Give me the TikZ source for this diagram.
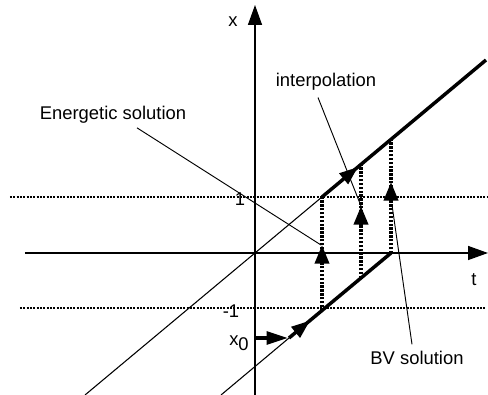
\documentclass[tikz,border=0pt]{standalone}
\usepackage{fontspec}
\setmainfont{Liberation Sans}
\usetikzlibrary{arrows.meta,positioning}
\tikzset{
  axis/.style={line width=1.1pt,-{Triangle[length=15pt,width=10.5pt]}},
  guide/.style={line width=0.9pt,dash pattern=on 1.5pt off 1pt},
  thinsol/.style={line width=0.8pt},
  thicksol/.style={line width=2.6pt},
  solhead/.style={line width=2.6pt,-{Triangle[length=14pt,width=10pt]}},
  jump/.style={line width=2.8pt,dash pattern=on 1.8pt off 1.1pt},
  jumphead/.style={line width=2.8pt,-{Triangle[length=14pt,width=10.5pt]}},
  pointer/.style={line width=0.7pt},
  lbl/.style={font=\fontsize{13.8}{16}\selectfont,inner sep=0pt},
}

\begin{document}
\begin{tikzpicture}[x=0.75pt,y=0.75pt]
\useasboundingbox (-255,-142) rectangle (233,253);

% --- levels +1 and -1 ---
\coordinate (g1a) at (-245,56);  \coordinate (g1b) at (233,56);
\coordinate (g2a) at (-235,-55); \coordinate (g2b) at (230,-55);
\draw[guide] (g1a) -- (g1b);
\draw[guide] (g2a) -- (g2b);

% --- axes ---
\coordinate (xa) at (0,-142); \coordinate (xb) at (0,248);
\coordinate (ta) at (-230,0); \coordinate (tb) at (233,0);
\draw[axis] (xa) -- (xb);
\draw[axis] (ta) -- (tb);

% --- the two branches ---
\coordinate (ua) at (-170,-142); \coordinate (ub) at (67,56);  \coordinate (uc) at (231,193);
\coordinate (la) at (-34,-142);  \coordinate (lb) at (34,-85); \coordinate (lc) at (136,0);
\draw[thinsol] (ua) -- (ub);
\draw[thinsol] (la) -- (lb);
\draw[thicksol] (ub) -- (uc);
\draw[thicksol] (lb) -- (lc);
\coordinate (uh0) at (89,74.5); \coordinate (uh1) at (103,86);
\coordinate (lh0) at (41,-79);  \coordinate (lh1) at (55,-67.6);
\draw[solhead] (uh0) -- (uh1);
\draw[solhead] (lh0) -- (lh1);

% --- starting value ---
\coordinate (x0a) at (-1,-85); \coordinate (x0b) at (33,-85);
\draw[line width=2.6pt,-{Triangle[length=16pt,width=9.5pt]}] (x0a) -- (x0b);

% --- jumps ---
\foreach \j/\t/\lo/\hi/\hb/\ht in {1/67/-58/56/-9/8, 2/106/-25/88.5/27/47, 3/136/0/113.6/53/71} {
  \coordinate (j\j-lo) at (\t,\lo);
  \coordinate (j\j-hi) at (\t,\hi);
  \coordinate (j\j-hb) at (\t,\hb);
  \coordinate (j\j-ht) at (\t,\ht);
  \draw[jump] (j\j-lo) -- (j\j-hi);
  \draw[jumphead] (j\j-hb) -- (j\j-ht);
}

% --- labels ---
\node[lbl] (xlbl)  at (-22,231) {x};
\node[lbl] (tlbl)  at (219,-27) {t};
\node[lbl] (one)   at (-15,54)  {1};
\node[lbl] (mone)  at (-24,-58) {-1};
\node[lbl] (xzero) at (-16,-90) {x\raisebox{-3.5pt}{0}};

\node[lbl] (energ)  at (-142,138) {Energetic solution};
\node[lbl] (interp) at (71,171)   {interpolation};
\node[lbl] (bv)     at (162,-105) {BV solution};

\coordinate (es) at (66,8);
\coordinate (ip) at (106,47);
\coordinate (bs) at (137,48);
\draw[pointer] ([xshift=18pt,yshift=-3pt]energ.south) -- (es);
\draw[pointer] ([xshift=-6pt,yshift=-5pt]interp.south) -- (ip);
\draw[pointer] ([xshift=-3.75pt,yshift=5pt]bv.north) -- (bs);

\end{tikzpicture}
\end{document}
